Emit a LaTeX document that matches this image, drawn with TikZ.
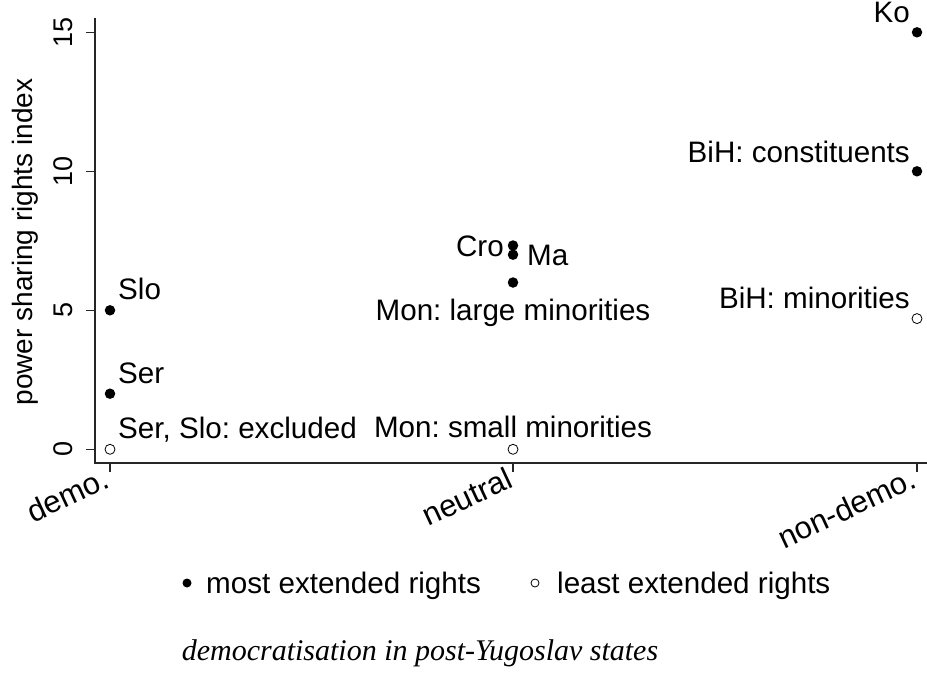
\documentclass[tikz,border=0pt]{standalone}
\usepackage{fontspec}
\setmainfont{Liberation Sans}
\newfontfamily\capfont{Liberation Serif}
\usetikzlibrary{positioning}
\frenchspacing

\begin{document}
\begin{tikzpicture}
  [x=1pt,y=-1pt,
   lbl/.style={font=\fontsize{29.6}{29.6}\selectfont,inner sep=0pt},
   tck/.style={font=\fontsize{27}{27}\selectfont,inner sep=0pt,rotate=90},
   full/.style={circle,fill=black,inner sep=0pt,minimum size=10.5pt},
   hollow/.style={circle,draw=black,fill=white,line width=0.8pt,inner sep=0pt,minimum size=10pt},
   axis/.style={line width=1.5pt,draw=black!85}]

  \useasboundingbox (0,0) rectangle (927,680);

  % axes
  \coordinate (ytop) at (95,18);
  \coordinate (orig) at (95,463);
  \coordinate (xend) at (927,463);
  \draw[axis] (ytop) -- (orig) -- (xend);

  \foreach \v/\yy in {0/449.3,5/310.3,10/171.3,15/32.3} {
    \draw[axis] (86,\yy) -- (95,\yy);
    \node[tck,anchor=south] (yt\v) at (73,\yy) {\v};
  }
  \node[font=\fontsize{28}{28}\selectfont,rotate=90] (ytitle) at (25,242) {power sharing rights index};

  \foreach \xx/\t/\n in {110/demo./dem,513/neutral/neu,917/non-demo./non} {
    \draw[axis] (\xx,463) -- (\xx,472);
    \node[font=\fontsize{31}{31}\selectfont,inner sep=0pt,rotate=25,anchor=north east] (xt\n) at (\xx-8,466) {\t};
  }

  % demo.
  \node[full] (slo) at (110,310.3) {};
  \node[lbl,anchor=base west] (slolbl) at (118,299) {Slo};
  \node[full] (ser) at (110,393.7) {};
  \node[lbl,anchor=base west] (serlbl) at (118,383) {Ser};
  \node[hollow] (excl) at (110,449.3) {};
  \node[lbl,anchor=base west] (excllbl) at (118,438) {Ser, Slo: excluded};

  % neutral
  \node[full] (cro) at (513,245.5) {};
  \node[lbl,anchor=base east] (crolbl) at (504,256) {Cro};
  \node[full] (ma) at (513,254.7) {};
  \node[lbl,anchor=base west] (malbl) at (527,265) {Ma};
  \node[full] (monl) at (513,282.5) {};
  \node[lbl,anchor=base] (monllbl) at (513,320) {Mon: large minorities};
  \node[hollow] (mons) at (513,449.3) {};
  \node[lbl,anchor=base] (monslbl) at (513,437) {Mon: small minorities};

  % non-demo.
  \node[full] (ko) at (917,32.3) {};
  \node[lbl,anchor=base east] (kolbl) at (910,23) {Ko};
  \node[full] (bihc) at (917,171.3) {};
  \node[lbl,anchor=base east] (bihclbl) at (910,162) {BiH: constituents};
  \node[hollow] (bihm) at (917,318.6) {};
  \node[lbl,anchor=base east] (bihmlbl) at (910,308) {BiH: minorities};

  % legend
  \node[full,minimum size=9pt] (legf) at (187,583) {};
  \node[lbl,anchor=base west] (legflbl) at (206,593) {most extended rights};
  \node[hollow,minimum size=8pt] (lego) at (535,583) {};
  \node[lbl,anchor=base west] (legolbl) at (557,593) {least extended rights};

  \node[font=\capfont\itshape\fontsize{30}{30}\selectfont,anchor=base,inner sep=0pt] (caption) at (420,660) {democratisation in post-Yugoslav states};
\end{tikzpicture}
\end{document}
